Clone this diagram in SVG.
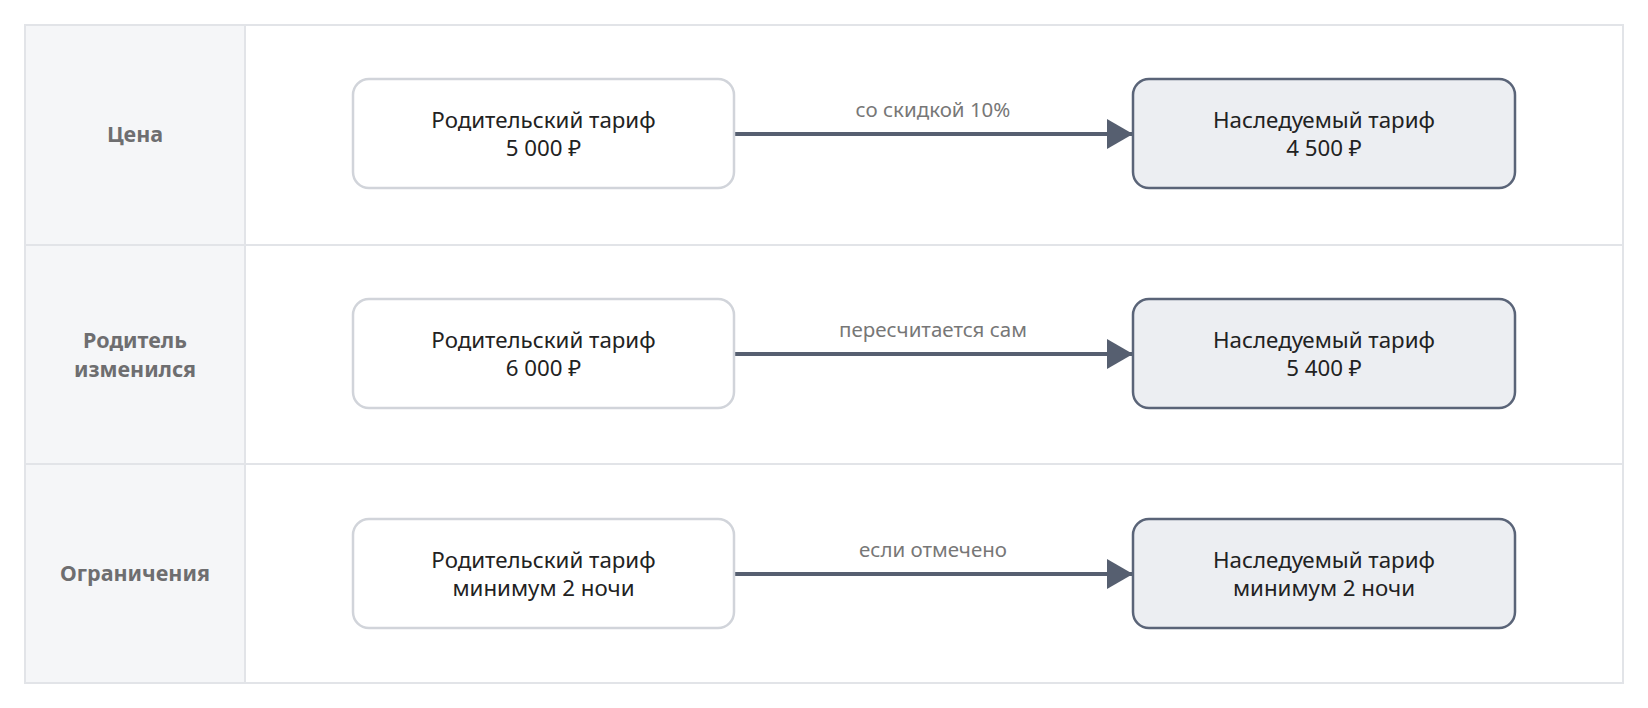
<svg xmlns="http://www.w3.org/2000/svg" width="1648" height="708" viewBox="0 0 1648 708">
<style>
.grid{fill:none;stroke:#e2e4e8;stroke-width:2}
.hdr{fill:#f5f6f8}
.rl{font-family:"Noto Sans","Open Sans",sans-serif;font-size:21.5px;font-weight:bold;fill:#6e6e70;text-anchor:middle}
.src rect{fill:#ffffff;stroke:#d1d4da;stroke-width:2.5}
.dst rect{fill:#eceef2;stroke:#5a6478;stroke-width:2.5}
.nt{font-family:"Noto Sans","Open Sans",sans-serif;font-size:22.3px;fill:#222222;text-anchor:middle}
.edge{stroke:#565f70;stroke-width:4;fill:none}
.el{font-family:"Noto Sans","Open Sans",sans-serif;font-size:20.5px;fill:#777777;text-anchor:middle}
</style>
<defs>
<marker id="ah" markerUnits="userSpaceOnUse" markerWidth="28" markerHeight="30" refX="26" refY="15" orient="auto">
<path d="M0,0 L26,15 L0,30 Z" fill="#565f70"/>
</marker>
</defs>
<rect x="0" y="0" width="1648" height="708" fill="#ffffff"/>
<g id="table">
<rect class="hdr" x="25" y="25" width="220" height="658"/>
<rect class="grid" x="25" y="25" width="1598" height="658"/>
<line class="grid" x1="245" y1="25" x2="245" y2="683"/>
<line class="grid" x1="25" y1="245" x2="1623" y2="245"/>
<line class="grid" x1="25" y1="464" x2="1623" y2="464"/>
</g>
<g id="row-labels">
<text class="rl" x="135" y="142">Цена</text>
<text class="rl" x="135" y="348">Родитель</text>
<text class="rl" x="135" y="377">изменился</text>
<text class="rl" x="135" y="581">Ограничения</text>
</g>
<g id="connectors">
<line class="edge" x1="734" y1="134" x2="1133" y2="134" marker-end="url(#ah)"/>
<line class="edge" x1="734" y1="354" x2="1133" y2="354" marker-end="url(#ah)"/>
<line class="edge" x1="734" y1="574" x2="1133" y2="574" marker-end="url(#ah)"/>
<text class="el" x="933" y="117">со скидкой 10%</text>
<text class="el" x="933" y="337">пересчитается сам</text>
<text class="el" x="933" y="557">если отмечено</text>
</g>
<g id="parent-1" class="src">
<rect x="353" y="79" width="381" height="109" rx="16"/>
<text class="nt" x="543.5" y="128">Родительский тариф</text>
<text class="nt" x="543.5" y="156">5 000 ₽</text>
</g>
<g id="child-1" class="dst">
<rect x="1133" y="79" width="382" height="109" rx="16"/>
<text class="nt" x="1324" y="128">Наследуемый тариф</text>
<text class="nt" x="1324" y="156">4 500 ₽</text>
</g>
<g id="parent-2" class="src">
<rect x="353" y="299" width="381" height="109" rx="16"/>
<text class="nt" x="543.5" y="348">Родительский тариф</text>
<text class="nt" x="543.5" y="376">6 000 ₽</text>
</g>
<g id="child-2" class="dst">
<rect x="1133" y="299" width="382" height="109" rx="16"/>
<text class="nt" x="1324" y="348">Наследуемый тариф</text>
<text class="nt" x="1324" y="376">5 400 ₽</text>
</g>
<g id="parent-3" class="src">
<rect x="353" y="519" width="381" height="109" rx="16"/>
<text class="nt" x="543.5" y="568">Родительский тариф</text>
<text class="nt" x="543.5" y="596">минимум 2 ночи</text>
</g>
<g id="child-3" class="dst">
<rect x="1133" y="519" width="382" height="109" rx="16"/>
<text class="nt" x="1324" y="568">Наследуемый тариф</text>
<text class="nt" x="1324" y="596">минимум 2 ночи</text>
</g>
</svg>
